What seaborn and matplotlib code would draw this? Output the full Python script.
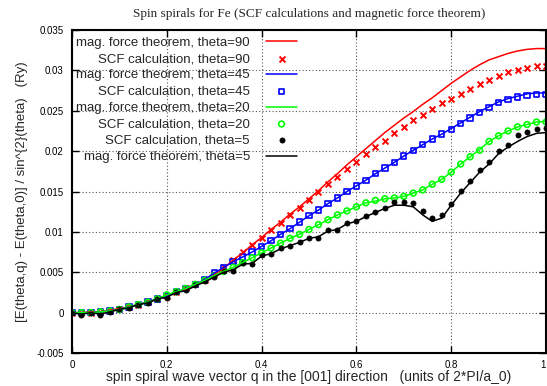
import numpy as np
import pandas as pd
import matplotlib
matplotlib.use("Agg")
import matplotlib.pyplot as plt
import seaborn as sns

q = [0.00, 0.02, 0.04, 0.06, 0.08, 0.10, 0.12, 0.14, 0.16, 0.18,
     0.20, 0.22, 0.24, 0.26, 0.28, 0.30, 0.32, 0.34, 0.36, 0.38,
     0.40, 0.42, 0.44, 0.46, 0.48, 0.50, 0.52, 0.54, 0.56, 0.58,
     0.60, 0.62, 0.64, 0.66, 0.68, 0.70, 0.72, 0.74, 0.76, 0.78,
     0.80, 0.82, 0.84, 0.86, 0.88, 0.90, 0.92, 0.94, 0.96, 0.98, 1.00]

mft90 = [0.0000, 0.0000, 0.0001, 0.0001, 0.0003, 0.0005, 0.0007, 0.0010, 0.0013, 0.0017,
         0.0021, 0.0025, 0.0029, 0.0034, 0.0040, 0.0047, 0.0055, 0.0065, 0.0074, 0.0084,
         0.0093, 0.0103, 0.0112, 0.0122, 0.0131, 0.0141, 0.0151, 0.0162, 0.0172, 0.0183,
         0.0193, 0.0203, 0.0213, 0.0223, 0.0232, 0.0241, 0.0249, 0.0258, 0.0266, 0.0275,
         0.0284, 0.0292, 0.0300, 0.0307, 0.0313, 0.0317, 0.0321, 0.0324, 0.0326, 0.0327, 0.0327]
scf90 = [0.0000, 0.0000, 0.0000, 0.0001, 0.0002, 0.0004, 0.0007, 0.0010, 0.0013, 0.0017,
         0.0021, 0.0026, 0.0030, 0.0035, 0.0041, 0.0048, 0.0057, 0.0065, 0.0075, 0.0084,
         0.0093, 0.0102, 0.0111, 0.0121, 0.0130, 0.0140, 0.0149, 0.0159, 0.0168, 0.0178,
         0.0187, 0.0196, 0.0205, 0.0213, 0.0222, 0.0230, 0.0238, 0.0245, 0.0252, 0.0259,
         0.0265, 0.0271, 0.0277, 0.0283, 0.0288, 0.0293, 0.0298, 0.0301, 0.0303, 0.0305, 0.0306]
mft45 = [0.0000, 0.0000, 0.0000, 0.0001, 0.0002, 0.0004, 0.0007, 0.0010, 0.0013, 0.0017,
         0.0021, 0.0026, 0.0030, 0.0035, 0.0041, 0.0049, 0.0056, 0.0063, 0.0069, 0.0075,
         0.0082, 0.0089, 0.0097, 0.0104, 0.0112, 0.0120, 0.0127, 0.0135, 0.0142, 0.0150,
         0.0157, 0.0164, 0.0172, 0.0179, 0.0186, 0.0194, 0.0201, 0.0208, 0.0215, 0.0221,
         0.0228, 0.0235, 0.0242, 0.0249, 0.0255, 0.0261, 0.0265, 0.0268, 0.0271, 0.0272, 0.0272]
scf45 = [0.0000, 0.0000, 0.0000, 0.0001, 0.0002, 0.0004, 0.0007, 0.0010, 0.0013, 0.0017,
         0.0021, 0.0026, 0.0030, 0.0035, 0.0041, 0.0049, 0.0056, 0.0063, 0.0069, 0.0075,
         0.0082, 0.0089, 0.0097, 0.0104, 0.0112, 0.0120, 0.0127, 0.0135, 0.0142, 0.0150,
         0.0157, 0.0164, 0.0172, 0.0179, 0.0186, 0.0194, 0.0201, 0.0208, 0.0215, 0.0221,
         0.0227, 0.0234, 0.0241, 0.0248, 0.0254, 0.0260, 0.0264, 0.0267, 0.0269, 0.0270, 0.0270]
mft20 = [0.0000, 0.0000, 0.0000, 0.0001, 0.0002, 0.0004, 0.0007, 0.0010, 0.0013, 0.0017,
         0.0022, 0.0026, 0.0030, 0.0035, 0.0040, 0.0046, 0.0051, 0.0056, 0.0062, 0.0068,
         0.0074, 0.0080, 0.0086, 0.0092, 0.0097, 0.0103, 0.0109, 0.0115, 0.0121, 0.0126,
         0.0131, 0.0136, 0.0138, 0.0141, 0.0142, 0.0144, 0.0148, 0.0152, 0.0159, 0.0165,
         0.0174, 0.0184, 0.0193, 0.0202, 0.0212, 0.0219, 0.0225, 0.0230, 0.0233, 0.0236, 0.0237]
scf20 = [0.0000, 0.0000, 0.0000, 0.0001, 0.0002, 0.0004, 0.0007, 0.0010, 0.0013, 0.0017,
         0.0022, 0.0026, 0.0030, 0.0035, 0.0040, 0.0046, 0.0051, 0.0056, 0.0062, 0.0068,
         0.0074, 0.0080, 0.0086, 0.0092, 0.0097, 0.0103, 0.0109, 0.0115, 0.0121, 0.0126,
         0.0131, 0.0136, 0.0139, 0.0141, 0.0142, 0.0144, 0.0148, 0.0152, 0.0159, 0.0165,
         0.0174, 0.0184, 0.0193, 0.0201, 0.0212, 0.0219, 0.0225, 0.0230, 0.0233, 0.0236, 0.0236]
scf5 = [0.0000, -0.0003, 0.0000, -0.0003, 0.0001, 0.0004, 0.0006, 0.0010, 0.0012, 0.0017,
        0.0018, 0.0026, 0.0028, 0.0034, 0.0039, 0.0044, 0.0051, 0.0052, 0.0061, 0.0060,
        0.0071, 0.0073, 0.0080, 0.0083, 0.0087, 0.0093, 0.0093, 0.0102, 0.0102, 0.0111,
        0.0113, 0.0120, 0.0125, 0.0130, 0.0137, 0.0137, 0.0136, 0.0126, 0.0117, 0.0121,
        0.0135, 0.0151, 0.0163, 0.0177, 0.0187, 0.0200, 0.0208, 0.0220, 0.0224, 0.0228, 0.0229]
mft5 = [0.0000, -0.0002, 0.0000, -0.0002, 0.0001, 0.0004, 0.0006, 0.0010, 0.0012, 0.0017,
        0.0019, 0.0025, 0.0027, 0.0033, 0.0038, 0.0044, 0.0050, 0.0053, 0.0060, 0.0061,
        0.0070, 0.0073, 0.0079, 0.0083, 0.0087, 0.0092, 0.0094, 0.0101, 0.0103, 0.0110,
        0.0113, 0.0119, 0.0124, 0.0129, 0.0133, 0.0133, 0.0131, 0.0121, 0.0113, 0.0117,
        0.0133, 0.0148, 0.0161, 0.0174, 0.0184, 0.0197, 0.0205, 0.0212, 0.0218, 0.0222, 0.0223]

labels = ["mag. force theorem, theta=90", "SCF calculation, theta=90",
          "mag. force theorem, theta=45", "SCF calculation, theta=45",
          "mag. force theorem, theta=20", "SCF calculation, theta=20",
          "SCF calculation, theta=5", "mag. force theorem, theta=5"]

xticks = [0, 0.2, 0.4, 0.6, 0.8, 1.0]
xticklabels = ["0", "0.2", "0.4", "0.6", "0.8", "1"]
yticks = [-0.005, 0, 0.005, 0.01, 0.015, 0.02, 0.025, 0.03, 0.035]
yticklabels = ["-0.005", "0", "0.005", "0.01", "0.015", "0.02", "0.025", "0.03", "0.035"]

title = "Spin spirals for Fe (SCF calculations and magnetic force theorem)"
xlabel = "spin spiral wave vector q in the [001] direction   (units of 2*PI/a_0)"
ylabel = "[E(theta,q) - E(theta,0)] / sin^{2}(theta)   (Ry)"

df = pd.DataFrame({"q": q, "mft90": mft90, "scf90": scf90, "mft45": mft45,
                   "scf45": scf45, "mft20": mft20, "scf20": scf20,
                   "scf5": scf5, "mft5": mft5})

sns.set_style("ticks")
plt.rcParams["font.family"] = ["Liberation Sans", "DejaVu Sans"]

fig = plt.figure(figsize=(5.47, 3.86), dpi=100)
ax = fig.add_axes([72 / 547, 1 - 353 / 386, 474 / 547, 323 / 386])

RED, BLUE, GREEN, BLACK = "#ff0000", "#0000ff", "#00ff00", "#000000"
lw = 1.1
sns.lineplot(data=df, x="q", y="mft90", ax=ax, color=RED, lw=lw, label=labels[0])
sns.scatterplot(data=df, x="q", y="scf90", ax=ax, color=RED, marker="x", s=18,
                linewidth=1.4, label=labels[1])
sns.lineplot(data=df, x="q", y="mft45", ax=ax, color=BLUE, lw=lw, label=labels[2])
sns.scatterplot(data=df, x="q", y="scf45", ax=ax, marker="s", s=15,
                facecolor="none", edgecolor=BLUE, linewidth=1.2, label=labels[3])
sns.lineplot(data=df, x="q", y="mft20", ax=ax, color=GREEN, lw=lw, label=labels[4])
sns.scatterplot(data=df, x="q", y="scf20", ax=ax, marker="o", s=17,
                facecolor="none", edgecolor=GREEN, linewidth=1.2, label=labels[5])
sns.scatterplot(data=df, x="q", y="scf5", ax=ax, marker="o", s=14,
                color=BLACK, edgecolor=BLACK, linewidth=0.5, label=labels[6])
sns.lineplot(data=df, x="q", y="mft5", ax=ax, color=BLACK, lw=lw, label=labels[7])

ax.set_xlim(0, 1)
ax.set_ylim(-0.005, 0.035)
ax.set_xticks(xticks)
ax.set_xticklabels(xticklabels)
ax.set_yticks(yticks)
ax.set_yticklabels(yticklabels)
ax.tick_params(axis="both", direction="in", length=5, width=1, labelsize=7,
               top=True, right=True, pad=6, colors="black")
ax.tick_params(axis="x", pad=5)
ax.get_xticklabels()[-1].set_horizontalalignment("right")
for sp in ax.spines.values():
    sp.set_visible(True)
    sp.set_linewidth(1.5)
    sp.set_color("black")
ax.grid(True, linestyle=(0, (1, 2)), color="#555555", linewidth=0.8)
ax.set_axisbelow(True)

ax.set_xlabel(xlabel, fontsize=10, labelpad=0)
ax.set_ylabel(ylabel, fontsize=9.5, labelpad=6)
fig.text(309 / 547, 1 - 14 / 386, title, ha="center", va="center",
         fontsize=9.5, family=["Liberation Serif", "DejaVu Serif"])

handles, labs = ax.get_legend_handles_labels()
order = [labs.index(l) for l in labels]
ax.legend([handles[i] for i in order], [labs[i] for i in order],
          loc="upper left", bbox_to_anchor=(-0.005, 1.0), frameon=False,
          markerfirst=False, fontsize=9.5, handlelength=2.4, handletextpad=1.2,
          labelspacing=0.31, borderaxespad=0.2, borderpad=0.3)

fig.savefig("out.png", dpi=100)
